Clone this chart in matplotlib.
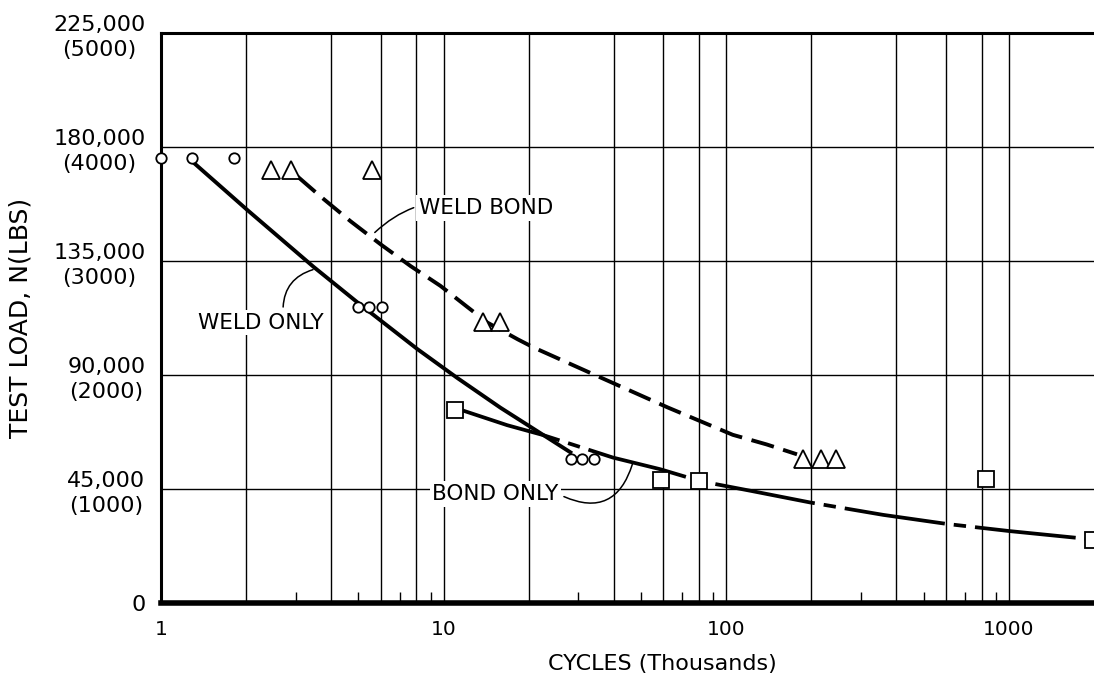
import matplotlib.pyplot as plt
from matplotlib.ticker import FixedLocator, FixedFormatter, NullFormatter

# ensayos, "weld only" (circulos)
weld_only_x = [1.0, 1.29, 1.81, 4.97, 5.43, 6.04, 28.3, 31.0, 34.2]
weld_only_y = [175500, 175500, 175800, 117000, 117000, 117000, 57000, 57000, 57000]

# ensayos, "weld bond" (triangulos)
weld_bond_x = [2.45, 2.88, 5.57, 13.8, 15.8, 187, 217, 245]
weld_bond_y = [171000, 171000, 171000, 111000, 111000, 57000, 57000, 57000]

# ensayos, "bond only" (cuadrados)
bond_only_x = [11.0, 59, 80, 830, 1980]
bond_only_y = [76300, 48500, 48200, 49000, 25000]

# curvas trazadas a mano
weld_only_fit_x = [1.31, 2.03, 3.47, 4.97, 8.09, 11.2, 15.9, 23.3, 28.1]
weld_only_fit_y = [173700, 155000, 132700, 118600, 100200, 88800, 77100, 65300, 59500]

weld_bond_fit_x = [3.05, 3.68, 4.69, 5.99, 7.65, 9.75, 12.1, 14.3, 18.3, 20.8, 35.0, 62.1, 105.5, 139, 178]
weld_bond_fit_y = [168300, 160400, 150700, 141600, 133000, 125200, 117000, 110700, 104100, 100900,
                   89600, 77200, 66400, 62600, 58700]

bond_only_fit_x = [11.7, 16.8, 22.5, 39.8, 58.5, 81.0, 122, 198, 275, 359, 605, 1005, 1980]
bond_only_fit_y = [76000, 70200, 66300, 57400, 52800, 48100, 44300, 39700, 37000, 34800, 31200, 28400, 25100]

y_ticks = [0, 45000, 90000, 135000, 180000, 225000]
y_tick_labels = ["0", "45,000\n(1000)", "90,000\n(2000)", "135,000\n(3000)",
                 "180,000\n(4000)", "225,000\n(5000)"]
x_ticks_grid = [1, 2, 4, 6, 8, 10, 20, 40, 60, 80, 100, 200, 400, 600, 800, 1000]
x_tick_labels = ["1", "", "", "", "", "10", "", "", "", "", "100", "", "", "", "", "1000"]
x_ticks_minor = [3, 5, 7, 9, 30, 50, 70, 90, 300, 500, 700, 900]


def graficar():
    fig = plt.figure(figsize=(10.94, 6.81), dpi=100)
    ax = fig.add_axes([0.147, 0.1145, 0.853, 0.837])

    ax.set_xscale("log")
    ax.set_xlim(1, 2000)
    ax.set_ylim(0, 225000)

    ax.xaxis.set_major_locator(FixedLocator(x_ticks_grid))
    ax.xaxis.set_major_formatter(FixedFormatter(x_tick_labels))
    ax.xaxis.set_minor_locator(FixedLocator(x_ticks_minor))
    ax.xaxis.set_minor_formatter(NullFormatter())
    ax.set_yticks(y_ticks)
    ax.set_yticklabels(y_tick_labels)

    ax.grid(True, which="major", color="black", linewidth=1.0)
    ax.set_axisbelow(True)
    ax.tick_params(axis="x", which="major", length=0, pad=12, labelsize=14.5)
    ax.tick_params(axis="x", which="minor", direction="in", length=8, width=1)
    ax.tick_params(axis="y", length=0, pad=11, labelsize=16)

    for lab in ax.get_yticklabels():
        lab.set_multialignment("center")
        lab.set_linespacing(1.3)

    for lado in ["left", "top"]:
        ax.spines[lado].set_linewidth(2.2)
    ax.spines["bottom"].set_linewidth(4)
    ax.spines["right"].set_visible(False)

    ax.set_xlabel("CYCLES (Thousands)", fontsize=16)
    ax.xaxis.set_label_coords(0.537, -0.089)
    ax.set_ylabel("TEST LOAD, N(LBS)", fontsize=18)
    ax.yaxis.set_label_coords(-0.137, 0.5)

    # curvas
    ax.plot(weld_only_fit_x, weld_only_fit_y, color="black", linewidth=2.8, zorder=3)
    ax.plot(weld_bond_fit_x, weld_bond_fit_y, color="black", linewidth=2.8,
            dashes=(6, 2.5), zorder=3)
    ax.plot(bond_only_fit_x, bond_only_fit_y, color="black", linewidth=2.7,
            dashes=(27, 2.4, 3.3, 2.4), zorder=3)

    # puntos de ensayo
    ax.plot(weld_only_x, weld_only_y, "o", markersize=7.5, markerfacecolor="white",
            markeredgecolor="black", markeredgewidth=1.3, clip_on=False, zorder=5)
    ax.plot(weld_bond_x, weld_bond_y, "^", markersize=13, markerfacecolor="white",
            markeredgecolor="black", markeredgewidth=1.3, zorder=5)
    ax.plot(bond_only_x, bond_only_y, "s", markersize=11, markerfacecolor="white",
            markeredgecolor="black", markeredgewidth=1.3, zorder=5)

    caja = dict(facecolor="white", edgecolor="none", pad=2)
    flecha = dict(arrowstyle="-", color="black", linewidth=1.1)

    ax.annotate("WELD BOND", xy=(5.62, 145500), xytext=(8.2, 156000),
                fontsize=15.5, ha="left", va="center", bbox=caja,
                arrowprops=dict(flecha, connectionstyle="arc3,rad=0.3"), zorder=6)
    ax.annotate("WELD ONLY", xy=(3.53, 131900), xytext=(1.35, 110700),
                fontsize=15.5, ha="left", va="center", bbox=caja,
                arrowprops=dict(flecha, connectionstyle="arc3,rad=-0.4",
                                relpos=(0.68, 1.0)), zorder=6)
    ax.annotate("BOND ONLY", xy=(46.9, 55900), xytext=(9.13, 43000),
                fontsize=15.5, ha="left", va="center", bbox=caja,
                arrowprops=dict(flecha, connectionstyle="arc3,rad=0.6",
                                relpos=(1.0, 0.5)), zorder=6)

    fig.savefig("out.png", dpi=100)
    plt.close(fig)


if __name__ == "__main__":
    graficar()
